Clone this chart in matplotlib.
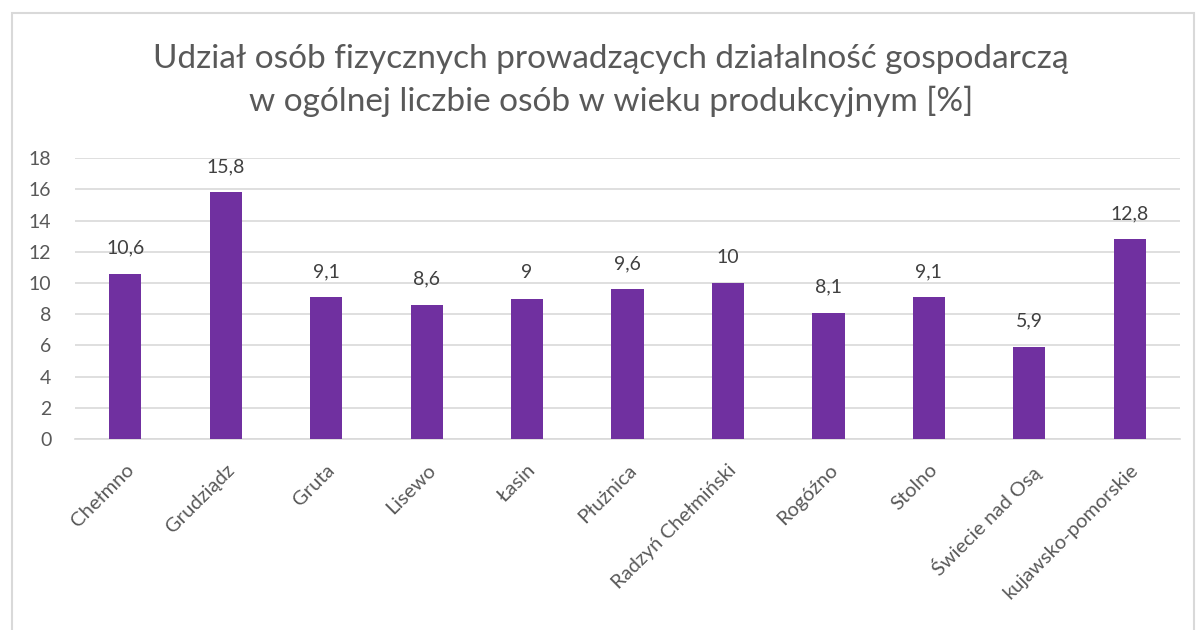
import matplotlib.pyplot as plt
from matplotlib.patches import Rectangle
from matplotlib.transforms import ScaledTranslation

# data
gminy = ['Chełmno', 'Grudziądz', 'Gruta', 'Lisewo', 'Łasin', 'Płużnica',
         'Radzyń Chełmiński', 'Rogóźno', 'Stolno', 'Świecie nad Osą',
         'kujawsko-pomorskie']
udzial = [10.6, 15.8, 9.1, 8.6, 9.0, 9.6, 10.0, 8.1, 9.1, 5.9, 12.8]
yticks = [0, 2, 4, 6, 8, 10, 12, 14, 16, 18]

plt.rcParams['font.family'] = ['Lato', 'DejaVu Sans']

fig = plt.figure(figsize=(11.98, 6.3), dpi=100)
ax = fig.add_axes([0.0626, 0.303, 0.9224, 0.446])

x = range(len(gminy))
ax.bar(x, udzial, width=0.32, color='#7030A0', zorder=3)

for xi, v in zip(x, udzial):
    lab = f'{v:g}'.replace('.', ',')
    ax.text(xi, v + 1.1, lab, ha='center', va='bottom', fontsize=14, color='#404040')

ax.set_ylim(0, 18)
ax.set_xlim(-0.5, len(gminy) - 0.5)
ax.set_yticks(yticks)
ax.set_xticks(list(x))
ax.set_xticklabels(gminy, rotation=45, ha='right', rotation_mode='anchor',
                   fontsize=14.5, color='#595959')
# shift rotated labels a bit to the right like in the original
shift = ScaledTranslation(0.17, 0, fig.dpi_scale_trans)
for lbl in ax.get_xticklabels():
    lbl.set_transform(lbl.get_transform() + shift)
ax.tick_params(axis='y', labelsize=14, labelcolor='#595959', length=0, pad=17)
ax.tick_params(axis='x', length=0, pad=16)
ax.grid(axis='y', color='#d9d9d9', linewidth=1.2, zorder=0)
for s in ['top', 'right', 'left']:
    ax.spines[s].set_visible(False)
ax.spines['bottom'].set_color('#d9d9d9')
ax.spines['bottom'].set_linewidth(1.2)

fig.text(0.51, 0.872, 'Udział osób fizycznych prowadzących działalność gospodarczą\n'
         'w ogólnej liczbie osób w wieku produkcyjnym [%]',
         ha='center', va='center', fontsize=24, color='#595959', linespacing=1.45)

fig.patches.append(Rectangle((0.01, -0.1), 0.987, 1.079, transform=fig.transFigure,
                             fill=False, edgecolor='#d9d9d9', linewidth=1.5))

fig.savefig('out.png', dpi=100)
